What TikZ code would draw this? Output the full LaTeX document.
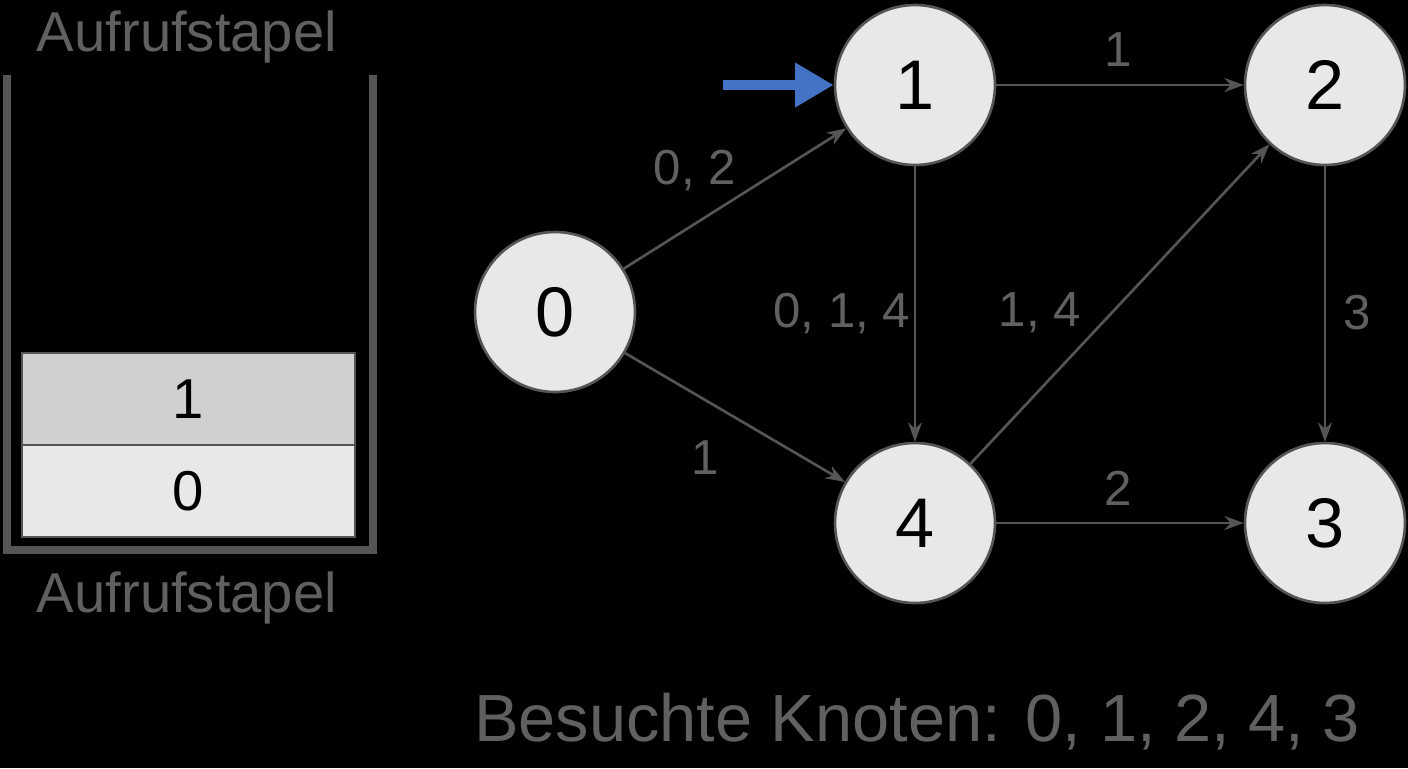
\documentclass[tikz,border=0pt]{standalone}
\usepackage{fontspec}
\setmainfont{Liberation Sans}
\usetikzlibrary{positioning}
\usetikzlibrary{arrows.meta}
\definecolor{knotfill}{HTML}{E8E8E8}
\definecolor{knotline}{HTML}{555555}
\definecolor{labelgray}{HTML}{606060}
\definecolor{cellone}{HTML}{D0D0D0}
\definecolor{zeiger}{HTML}{4472C4}
\begin{document}
\begin{tikzpicture}[
    x=0.02cm, y=-0.02cm,
    knot/.style={circle, draw=knotline, line width=1.5pt, fill=knotfill, minimum size=3.2cm, inner sep=0pt, font=\fontsize{40}{44}\selectfont},
    kante/.style={-{Stealth[length=11pt,width=8pt]}, draw=knotline, line width=1.5pt},
    gewicht/.style={text=labelgray, font=\fontsize{28}{32}\selectfont},
    zelle/.style={draw=knotline, line width=1.5pt, minimum width=6.66cm, minimum height=1.84cm, inner sep=0pt, font=\fontsize{32}{36}\selectfont}
]

    % Background
    \useasboundingbox (0,0) rectangle (1408,768);
    \fill[black] (0,0) rectangle (1408,768);

    % Stack
    \draw[knotline, line width=4.5pt] (7,75) -- (7,550) -- (373,550) -- (373,75);
    \node[zelle, fill=cellone] (s1) at (188.5,399) {1};
    \node[zelle, fill=knotfill] (s0) at (188.5,491) {0};
    \node[text=labelgray, font=\fontsize{32}{36}\selectfont] (titleTop) at (187,37) {Aufrufstapel};
    \node[text=labelgray, font=\fontsize{32}{36}\selectfont] (titleBot) at (187,598) {Aufrufstapel};

    % Graph
    \node[knot] (n0) at (555,312) {0};
    \node[knot] (n1) at (915,85) {1};
    \node[knot] (n2) at (1325,85) {2};
    \node[knot] (n4) at (915,523) {4};
    \node[knot] (n3) at (1325,523) {3};

    \draw[kante] (n0) -- (n1);
    \draw[kante] (n0) -- (n4);
    \draw[kante] (n1) -- (n2);
    \draw[kante] (n1) -- (n4);
    \draw[kante] (n4) -- (n2);
    \draw[kante] (n4) -- (n3);
    \draw[kante] (n2) -- (n3);

    % Weights
    \node[gewicht] at (695,170) {0, 2};
    \node[gewicht] at (705,458) {1};
    \node[gewicht] at (1118,50) {1};
    \node[gewicht] at (842,313) {0, 1, 4};
    \node[gewicht] at (1040,313) {1, 4};
    \node[gewicht] at (1357,313) {3};
    \node[gewicht] at (1118,488) {2};

    % Pointer
    \coordinate (zeigerStart) at (723,85);
    \draw[zeiger, line width=6pt, -{Triangle[length=22pt,width=24pt]}] (zeigerStart) -- (n1.west);

    % Visited
    \node[text=labelgray, font=\fontsize{38}{42}\selectfont] (besucht) at (917,722) {Besuchte Knoten: 0, 1, 2, 4, 3};

\end{tikzpicture}
\end{document}
